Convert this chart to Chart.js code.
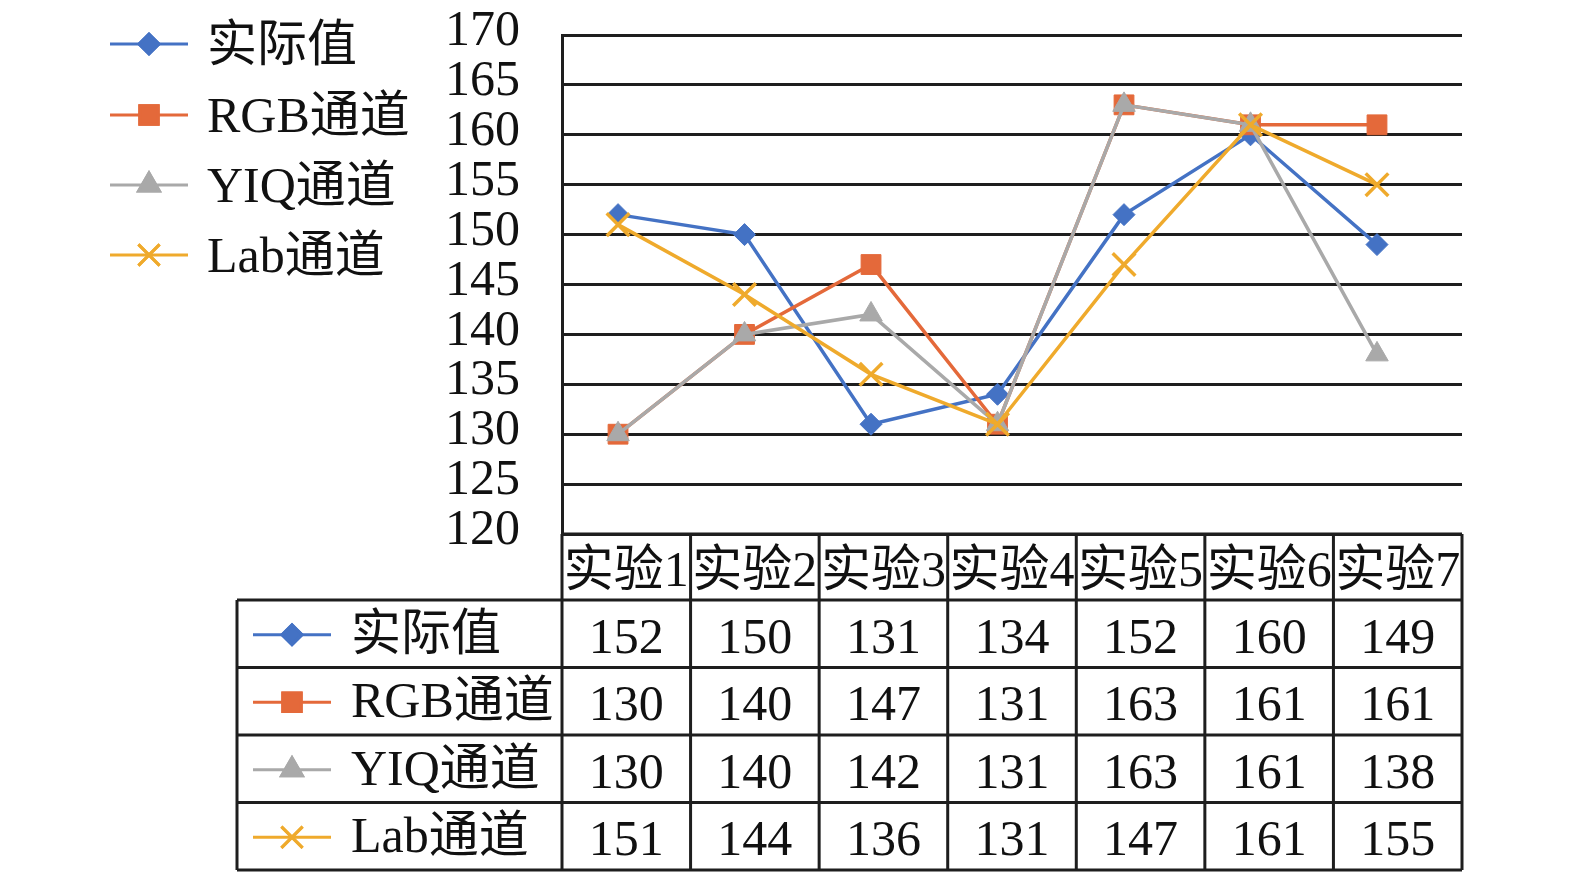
<!DOCTYPE html>
<html lang="zh-CN">
<head>
    <meta charset="UTF-8">
    <title>实验对比</title>
    <script src="https://cdn.jsdelivr.net/npm/chart.js"></script>
    <style>
        html, body {
            margin: 0;
            padding: 0;
            background: #ffffff;
        }
        #wrap {
            width: 1575px;
            height: 878px;
        }
    </style>
</head>
<body>
    <div id="wrap"><canvas id="chart" width="1575" height="878"></canvas></div>
    <script>
        // categories and series
        const categories = ['实验1', '实验2', '实验3', '实验4', '实验5', '实验6', '实验7'];
        const seriesNames = ['实际值', 'RGB通道', 'YIQ通道', 'Lab通道'];
        const actualValues = [152, 150, 131, 134, 152, 160, 149];
        const rgbValues = [130, 140, 147, 131, 163, 161, 161];
        const yiqValues = [130, 140, 142, 131, 163, 161, 138];
        const labValues = [151, 144, 136, 131, 147, 161, 155];
        const yTicks = [120, 125, 130, 135, 140, 145, 150, 155, 160, 165, 170];

        const FONT = '"Liberation Serif", "Times New Roman", "Noto Sans CJK SC", serif';
        const LINE = '#1e1e1e';

        const styles = [
            { color: '#4472C4', point: 'rectRot', radius: 11 },
            { color: '#E4693A', point: 'rect', radius: 14 },
            { color: '#A9A9A9', point: 'triangle', radius: 13 },
            { color: '#EFAA2C', point: 'crossRot', radius: 16 }
        ];
        const allValues = [actualValues, rgbValues, yiqValues, labValues];

        // draws a legend/table marker with the same shape as the series
        function drawKey(ctx, s, cx, cy) {
            ctx.save();
            ctx.strokeStyle = s.color;
            ctx.lineWidth = 3;
            ctx.beginPath();
            ctx.moveTo(cx - 39, cy);
            ctx.lineTo(cx + 39, cy);
            ctx.stroke();
            Chart.helpers.drawPoint(ctx, {
                pointStyle: s.point,
                radius: s.radius - 1,
                rotation: 0,
                borderWidth: 3
            }, cx, cy);
            ctx.fillStyle = s.color;
            ctx.fill();
            ctx.stroke();
            ctx.restore();
        }

        const tablePlugin = {
            id: 'tablePlugin',
            afterDraw(chart) {
                const ctx = chart.ctx;
                const area = chart.chartArea;
                const colW = (area.right - area.left) / categories.length;
                const headTop = area.bottom;
                const rowTops = [600, 667.5, 735, 802.5, 870];
                const tableLeft = 237;

                ctx.save();
                ctx.strokeStyle = LINE;
                ctx.lineWidth = 3;
                ctx.fillStyle = '#111';
                ctx.font = '50px ' + FONT;
                ctx.textBaseline = 'middle';
                ctx.textAlign = 'center';

                // grid of the data table
                ctx.beginPath();
                ctx.moveTo(area.left, headTop);
                ctx.lineTo(area.right, headTop);
                for (let k = 0; k <= categories.length; k++) {
                    const x = area.left + k * colW;
                    ctx.moveTo(x, headTop);
                    ctx.lineTo(x, rowTops[rowTops.length - 1]);
                }
                rowTops.forEach(y => {
                    ctx.moveTo(tableLeft, y);
                    ctx.lineTo(area.right, y);
                });
                ctx.moveTo(tableLeft, rowTops[0]);
                ctx.lineTo(tableLeft, rowTops[rowTops.length - 1]);
                ctx.stroke();

                categories.forEach((c, k) => {
                    ctx.fillText(c, area.left + (k + 0.5) * colW, (headTop + rowTops[0]) / 2 + 6);
                });

                // rows
                for (let r = 0; r < seriesNames.length; r++) {
                    const cy = (rowTops[r] + rowTops[r + 1]) / 2 + 6;
                    drawKey(ctx, styles[r], 292, cy - 5);
                    ctx.fillStyle = '#111';
                    ctx.textAlign = 'left';
                    ctx.fillText(seriesNames[r], 351, cy - 3);
                    ctx.textAlign = 'center';
                    allValues[r].forEach((v, k) => {
                        ctx.fillText(String(v), area.left + (k + 0.5) * colW, cy);
                    });
                }

                // legend top left
                const legendY = [44, 115, 185, 255];
                ctx.textAlign = 'left';
                for (let r = 0; r < seriesNames.length; r++) {
                    drawKey(ctx, styles[r], 149, legendY[r]);
                    ctx.fillStyle = '#111';
                    ctx.fillText(seriesNames[r], 207, legendY[r] + 4);
                }
                ctx.restore();
            }
        };

        const datasets = allValues.map((vals, r) => ({
            label: seriesNames[r],
            data: vals.map((v, i) => ({ x: i, y: v })),
            borderColor: styles[r].color,
            backgroundColor: styles[r].color,
            borderWidth: 3.5,
            pointStyle: styles[r].point,
            pointRadius: styles[r].radius,
            pointBorderWidth: styles[r].point === 'crossRot' ? 3.5 : 1,
            pointBorderColor: styles[r].color,
            pointBackgroundColor: styles[r].color,
            tension: 0,
            order: seriesNames.length - r
        }));

        new Chart(document.getElementById('chart').getContext('2d'), {
            type: 'line',
            data: { datasets: datasets },
            plugins: [tablePlugin],
            options: {
                responsive: false,
                animation: false,
                devicePixelRatio: 1,
                layout: {
                    padding: { left: 0, top: 35, right: 113, bottom: 344 }
                },
                plugins: {
                    legend: { display: false },
                    tooltip: { enabled: false }
                },
                scales: {
                    x: {
                        type: 'linear',
                        min: -0.443,
                        max: 6.672,
                        display: false
                    },
                    y: {
                        min: 120,
                        max: 170,
                        afterFit: s => {
                            s.width = 562;
                            s.paddingTop = 0;
                            s.paddingBottom = 0;
                        },
                        afterBuildTicks: s => { s.ticks = yTicks.map(v => ({ value: v })); },
                        grid: {
                            color: LINE,
                            lineWidth: 3,
                            drawTicks: false
                        },
                        border: {
                            display: true,
                            color: LINE,
                            width: 3
                        },
                        ticks: {
                            autoSkip: false,
                            padding: 42,
                            color: '#111',
                            labelOffset: -3,
                            font: { family: FONT, size: 50 }
                        }
                    }
                }
            }
        });
    </script>
</body>
</html>
